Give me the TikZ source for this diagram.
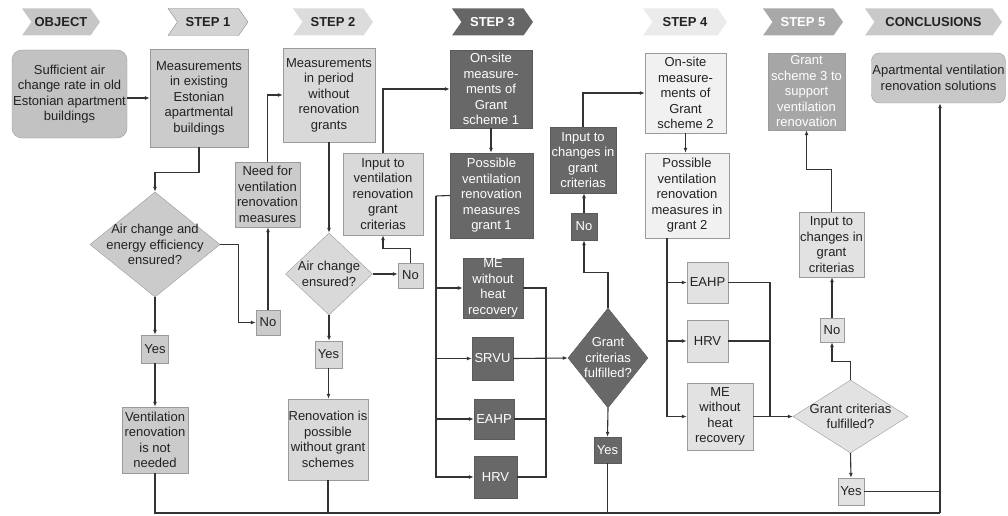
\documentclass[tikz,border=0pt]{standalone}
\usepackage{fontspec}
\setmainfont{Liberation Sans}
\usepackage{tikz}
\usetikzlibrary{shapes.geometric, shapes.symbols, arrows.meta}
\definecolor{ink}{HTML}{222222}
\definecolor{wire}{HTML}{333333}
\definecolor{edge}{HTML}{9A9A9A}
\definecolor{edgedark}{HTML}{8A8A8A}
\definecolor{objfill}{HTML}{C2C2C2}
\definecolor{onefill}{HTML}{CBCBCB}
\definecolor{twofill}{HTML}{D9D9D9}
\definecolor{threefill}{HTML}{686868}
\definecolor{threeedge}{HTML}{5A5A5A}
\definecolor{fourfill}{HTML}{F1F1F1}
\definecolor{fourlow}{HTML}{E2E2E2}
\definecolor{fivefill}{HTML}{A6A6A6}
\definecolor{conclfill}{HTML}{C8C8C8}
\definecolor{hdrobj}{HTML}{C6C6C6}
\definecolor{hdrone}{HTML}{D3D3D3}
\definecolor{hdrtwo}{HTML}{DCDCDC}
\definecolor{hdrthree}{HTML}{666666}
\definecolor{hdrfour}{HTML}{EBEBEB}
\definecolor{hdrfive}{HTML}{A8A8A8}
\definecolor{hdrconcl}{HTML}{C9C9C9}

\begin{document}
\begin{tikzpicture}[
    x=1pt, y=-1pt,
    every node/.style={font=\fontsize{13}{15.5}\selectfont, text=ink},
    box/.style={draw=edge, align=center, inner sep=0pt},
    decision/.style={diamond, draw=edge, align=center, inner sep=-15pt},
    hdr/.style={signal, signal to=east, signal from=west, signal pointer angle=110,
                minimum height=27pt, inner sep=0pt,
                font=\fontsize{13}{15}\selectfont\bfseries},
    wh/.style 2 args={minimum width=#1pt, minimum height=#2pt},
    link/.style={line width=1.1pt, draw=wire},
    arrow/.style={link, -{Latex[length=5pt, width=4pt]}}
  ]
    \useasboundingbox (0,0) rectangle (1008,516);

    % stage headers
    \foreach \nm/\x/\w/\clr/\tc/\dc/\txt in {
        hobj/61/78/hdrobj/ink/none/OBJECT,
        hsone/208/80/hdrone/ink/edgedark/STEP 1,
        hstwo/333/80/hdrtwo/ink/none/STEP 2,
        hsthree/492.5/81/hdrthree/white/none/STEP 3,
        hsfour/685/84/hdrfour/ink/none/STEP 4,
        hsfive/803/80/hdrfive/white/none/STEP 5,
        hconcl/933.5/137/hdrconcl/ink/none/CONCLUSIONS} {
      \node[hdr, fill=\clr, draw=\dc, text=\tc, minimum width=\w pt] (\nm) at (\x,22) {\txt};
    }

    % object
    \node[box, rounded corners=10pt, fill=objfill, wh={115}{88}] (obj) at (69.5,94)
      {Sufficient air\\change rate in old\\Estonian apartment\\buildings};

    % step 1
    \node[box, fill=onefill, wh={98}{98}] (meas1) at (199,98)
      {Measurements\\in existing\\Estonian\\apartmental\\buildings};
    \node[decision, fill=onefill, wh={130}{105}] (dec1) at (155,244.5)
      {Air change and\\energy efficiency\\ensured?};
    \node[box, fill=onefill, wh={24}{25}] (no1) at (268,322.5) {No};
    \node[box, fill=onefill, wh={65}{65}] (need) at (267.5,194.5)
      {Need for\\ventilation\\renovation\\measures};
    \node[box, fill=onefill, wh={27}{28}] (yes1) at (155,349) {Yes};
    \node[box, fill=onefill, wh={66}{66}] (notneed) at (155,440)
      {Ventilation\\renovation\\is not\\needed};

    % step 2
    \node[box, fill=twofill, wh={92}{94}] (meas2) at (329,95)
      {Measurements\\in period\\without\\renovation\\grants};
    \node[decision, fill=twofill, wh={87}{82}] (dec2) at (329,274)
      {Air change\\ensured?};
    \node[box, fill=twofill, wh={25}{25}] (no2) at (410.5,275.5) {No};
    \node[box, fill=twofill, wh={80}{82}] (input1) at (383,194)
      {Input to\\ventilation\\renovation\\grant\\criterias};
    \node[box, fill=twofill, wh={27}{27}] (yes2) at (328.5,354.5) {Yes};
    \node[box, fill=twofill, wh={80}{81}] (renov) at (328,439.5)
      {Renovation is\\possible\\without grant\\schemes};

    % step 3
    \node[box, fill=threefill, draw=threeedge, text=white, wh={82}{78}] (meas3) at (491,89)
      {On-site\\measure-\\ments of\\Grant\\scheme 1};
    \node[box, fill=threefill, draw=threeedge, text=white, wh={83}{85}] (poss1) at (491.5,195.5)
      {Possible\\ventilation\\renovation\\measures\\grant 1};
    \node[box, fill=threefill, draw=threeedge, text=white, wh={60}{60}] (me1) at (493,288)
      {ME\\without\\heat\\recovery};
    \node[box, fill=threefill, draw=threeedge, text=white, wh={41}{43}] (srvu) at (492.5,358.5) {SRVU};
    \node[box, fill=threefill, draw=threeedge, text=white, wh={40}{40}] (eahp1) at (494,419) {EAHP};
    \node[box, fill=threefill, draw=threeedge, text=white, wh={43}{42}] (hrv1) at (495.5,477) {HRV};
    \node[decision, fill=threefill, draw=threeedge, text=white, wh={80}{100}] (dec3) at (608,358)
      {Grant\\criterias\\fulfilled?};
    \node[box, fill=threefill, draw=threeedge, text=white, wh={26}{27}] (no3) at (584,226.5) {No};
    \node[box, fill=threefill, draw=threeedge, text=white, wh={66}{66}] (input3) at (583,160)
      {Input to\\changes in\\grant\\criterias};
    \node[box, fill=threefill, draw=threeedge, text=white, wh={27}{26}] (yes3) at (607.5,450) {Yes};

    % step 4
    \node[box, fill=fourfill, wh={81}{80}] (meas4) at (685.5,93)
      {On-site\\measure-\\ments of\\Grant\\scheme 2};
    \node[box, fill=fourfill, wh={84}{85}] (poss2) at (687,195.5)
      {Possible\\ventilation\\renovation\\measures in\\grant 2};
    \node[box, fill=fourlow, wh={41}{41}] (eahp2) at (707.5,282.5) {EAHP};
    \node[box, fill=fourlow, wh={41}{42}] (hrv2) at (707.5,341) {HRV};
    \node[box, fill=fourlow, wh={66}{67}] (me2) at (720,416.5)
      {ME\\without\\heat\\recovery};
    \node[decision, fill=fourlow, wh={115}{73}] (dec4) at (850.5,416.5)
      {Grant criterias\\fulfilled?};
    \node[box, fill=fourlow, wh={24}{24}] (no4) at (832,330) {No};
    \node[box, fill=fourlow, wh={65}{65}] (input4) at (831.5,244.5)
      {Input to\\changes in\\grant\\criterias};
    \node[box, fill=fourlow, wh={26}{27}] (yes4) at (851,491.5) {Yes};

    % step 5
    \node[box, fill=fivefill, text=white, wh={77}{77}] (grant3) at (806.5,91.5)
      {Grant\\scheme 3 to\\support\\ventilation\\renovation};

    % conclusions
    \node[box, rounded corners=8pt, fill=conclfill, wh={134}{50}] (concl) at (938.5,78)
      {Apartmental ventilation\\renovation solutions};

    % connectors, steps 1-2
    \draw[arrow] (obj.east |- meas1.west) -- (meas1.west);
    \draw[arrow] (meas1.south) -- ++(0,25) -| (dec1.north);
    \draw[arrow] (dec1.east) -- ++(18,0) |- (no1.west);
    \draw[arrow] (no1.north) -- (no1.north |- need.south);
    \draw[arrow] (need.north) |- (meas2.west);
    \draw[arrow] (dec1.south) -- (yes1.north);
    \draw[arrow] (yes1.south) -- (notneed.north);
    \draw[arrow] (meas2.south) -- (dec2.north);
    \draw[arrow] (dec2.south) -- (dec2.south |- yes2.north);
    \draw[arrow] (yes2.south) -- (yes2.south |- renov.north);
    \draw[arrow] (dec2.east) -- (dec2.east -| no2.west);
    \draw[arrow] (no2.north) -- ++(0,-14) -| (input1.south);
    \draw[arrow] (input1.north) |- (meas3.west);

    % connectors, step 3
    \draw[arrow] (meas3.south) -- (meas3.south |- poss1.north);
    \coordinate (fork1) at (436,196);
    \draw[link] (poss1.west) -- (fork1);
    \foreach \m in {me1, srvu, eahp1, hrv1}
      \draw[arrow] (fork1) |- (\m.west);
    \coordinate (join1) at (546,358.5);
    \foreach \m in {me1, eahp1, hrv1}
      \draw[link] (\m.east) -| (join1);
    \draw[arrow] (srvu.east) -- (dec3.west);
    \draw[arrow] (dec3.north) -- ++(0,-35) -| (no3.south);
    \draw[arrow] (no3.north) -- (no3.north |- input3.south);
    \draw[arrow] (input3.north) |- (meas4.west);
    \draw[arrow] (dec3.south) -- (yes3.north);

    % connectors, steps 4-5
    \draw[arrow] (meas4.south) -- (meas4.south |- poss2.north);
    \coordinate (fork2) at ([xshift=-20pt]poss2.south);
    \foreach \m in {eahp2, hrv2, me2}
      \draw[arrow] (fork2) |- (\m.west);
    \coordinate (join2) at (770,416.5);
    \foreach \m in {eahp2, hrv2}
      \draw[link] (\m.east) -| (join2);
    \draw[arrow] (me2.east) -- (dec4.west);
    \draw[arrow] (dec4.north) -- ++(0,-18) -| (no4.south);
    \draw[arrow] (no4.north) -- (no4.north |- input4.south);
    \draw[arrow] (input4.north) -- ++(0,-42) -| (grant3.south);
    \draw[arrow] (dec4.south) -- (yes4.north);

    % common line to conclusions
    \coordinate (bus) at (940,513);
    \draw[link] (notneed.south) |- (bus);
    \foreach \m in {renov, yes3}
      \draw[link] (\m.south) -- (\m.south |- bus);
    \draw[link] (yes4.east) -- (yes4.east -| bus);
    \draw[arrow] (bus) -- (bus |- concl.south);
  \end{tikzpicture}
\end{document}
